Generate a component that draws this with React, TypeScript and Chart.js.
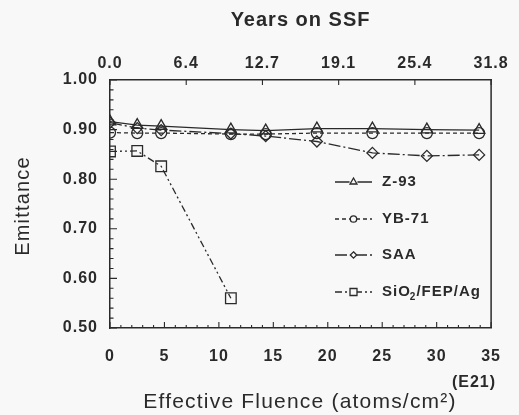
import { useEffect, useRef } from 'react';
import { Chart, registerables } from 'chart.js';
Chart.register(...registerables);

// ---- data ----
const fluence = [0, 2.5, 4.7, 11.1, 14.3, 19.0, 24.1, 29.1, 33.9];
const z93 = [0.916, 0.909, 0.907, 0.900, 0.898, 0.902, 0.902, 0.900, 0.899];
const yb71 = [0.894, 0.893, 0.893, 0.891, 0.891, 0.893, 0.893, 0.893, 0.893];
const saa = [0.914, 0.903, 0.899, 0.892, 0.887, 0.876, 0.853, 0.847, 0.849];
const sioFluence = [0, 2.5, 4.7, 11.1];
const sio = [0.856, 0.857, 0.826, 0.56];
const seriesLabels = ['Z-93', 'YB-71', 'SAA', 'SiO2/FEP/Ag'];
const yearTickPositions = [0, 7, 14, 21, 28, 35];
const yearLabels = ['0.0', '6.4', '12.7', '19.1', '25.4', '31.8'];

const FONT = "'Liberation Sans', Arial, Helvetica, sans-serif";
const INK = '#2a2a2a';
const BG = '#f8f8f8';

type Style = 'triangle' | 'circle' | 'rectRot' | 'rect';

function drawMarker(ctx: CanvasRenderingContext2D, style: Style, x: number, y: number, r: number) {
  ctx.beginPath();
  if (style === 'triangle') {
    const s = Math.sin(Math.PI / 3) * r;
    ctx.moveTo(x, y - r);
    ctx.lineTo(x + s, y + r / 2);
    ctx.lineTo(x - s, y + r / 2);
    ctx.closePath();
  } else if (style === 'circle') {
    ctx.arc(x, y, r, 0, Math.PI * 2);
  } else if (style === 'rectRot') {
    ctx.moveTo(x, y - r);
    ctx.lineTo(x + r, y);
    ctx.lineTo(x, y + r);
    ctx.lineTo(x - r, y);
    ctx.closePath();
  } else {
    ctx.rect(x - r, y - r, 2 * r, 2 * r);
  }
  ctx.stroke();
}

export default function App() {
  const ref = useRef<HTMLCanvasElement>(null);

  useEffect(() => {
    const canvas = ref.current!;
    const styles: Style[] = ['triangle', 'circle', 'rectRot', 'rect'];
    const dashes: number[][] = [[], [4, 3], [12, 3, 2, 3], [7, 3, 2, 3, 2, 3]];
    const radii = [6.5, 5.5, 5.5, 7.5];
    const legendRadii = [4, 3.2, 3.2, 3.5];
    const ys = [z93, yb71, saa, sio];
    const xs = [fluence, fluence, fluence, sioFluence];

    const datasets = ys.map((vals, k) => ({
      label: seriesLabels[k],
      data: xs[k].map((x, i) => ({ x, y: vals[i] })),
      borderColor: INK,
      borderWidth: 1.3,
      borderDash: dashes[k],
      pointStyle: styles[k],
      pointRadius: radii[k],
      pointBorderColor: INK,
      pointBorderWidth: 1.3,
      pointBackgroundColor: 'rgba(0,0,0,0)',
      fill: false,
      tension: 0,
      xAxisID: 'x',
      yAxisID: 'y',
    }));

    const decor = {
      id: 'decor',
      beforeDraw(chart: any) {
        const ctx = chart.ctx as CanvasRenderingContext2D;
        ctx.save();
        ctx.fillStyle = BG;
        ctx.fillRect(0, 0, chart.width, chart.height);
        ctx.restore();
        (ctx as any).letterSpacing = '1px';
      },
      afterDraw(chart: any) {
        const ctx = chart.ctx as CanvasRenderingContext2D;
        const { left, right, top, bottom } = chart.chartArea;
        const sx = chart.scales.x;
        const sy = chart.scales.y;
        ctx.save();
        ctx.strokeStyle = INK;
        ctx.lineWidth = 1.5;
        // right frame
        ctx.beginPath();
        ctx.moveTo(right, top);
        ctx.lineTo(right, bottom);
        ctx.stroke();
        // inward ticks
        ctx.lineWidth = 1.1;
        ctx.beginPath();
        for (let i = 0; i <= 35; i++) {
          const px = sx.getPixelForValue(i);
          const len = i % 5 === 0 ? 6 : 3;
          ctx.moveTo(px, bottom);
          ctx.lineTo(px, bottom - len);
        }
        for (let i = 0; i <= 25; i++) {
          const v = 0.5 + i * 0.02;
          const py = sy.getPixelForValue(v);
          const len = i % 5 === 0 ? 7 : 3.5;
          ctx.moveTo(left, py);
          ctx.lineTo(left + len, py);
        }
        for (const p of yearTickPositions) {
          const px = sx.getPixelForValue(p);
          ctx.moveTo(px, top);
          ctx.lineTo(px, top + 5);
        }
        ctx.stroke();

        // titles
        ctx.fillStyle = INK;
        (ctx as any).letterSpacing = '1px';
        ctx.textAlign = 'center';
        ctx.textBaseline = 'middle';
        ctx.font = `bold 20px ${FONT}`;
        ctx.fillText('Years on SSF', (left + right) / 2, 20);
        ctx.font = `21px ${FONT}`;
        (ctx as any).letterSpacing = '1.2px';
        ctx.fillText('Effective Fluence (atoms/cm²)', 300, 402);
        ctx.save();
        ctx.translate(23, 206);
        ctx.rotate(-Math.PI / 2);
        ctx.font = `20px ${FONT}`;
        ctx.fillText('Emittance', 0, 0);
        ctx.restore();
        (ctx as any).letterSpacing = '1px';
        ctx.font = `bold 16px ${FONT}`;
        ctx.textAlign = 'right';
        ctx.fillText('(E21)', 496, 383);

        // legend
        const lx0 = 335, lx1 = 372, tx = 382;
        const rowY = [182, 219, 255, 292];
        ctx.textAlign = 'left';
        for (let k = 0; k < 4; k++) {
          const y = rowY[k];
          ctx.lineWidth = 1.3;
          ctx.setLineDash(dashes[k]);
          ctx.beginPath();
          ctx.moveTo(lx0, y);
          ctx.lineTo(lx1, y);
          ctx.stroke();
          ctx.setLineDash([]);
          ctx.fillStyle = BG;
          ctx.beginPath();
          ctx.arc((lx0 + lx1) / 2, y, legendRadii[k], 0, Math.PI * 2);
          ctx.fill();
          drawMarker(ctx, styles[k], (lx0 + lx1) / 2, y, legendRadii[k]);
          ctx.fillStyle = INK;
          ctx.font = `bold 15px ${FONT}`;
          const label = seriesLabels[k];
          if (label.startsWith('SiO2')) {
            ctx.fillText('SiO', tx, y);
            const w1 = ctx.measureText('SiO').width;
            ctx.font = `bold 10px ${FONT}`;
            ctx.fillText('2', tx + w1 - 1, y + 5);
            const w2 = ctx.measureText('2').width;
            ctx.font = `bold 15px ${FONT}`;
            ctx.fillText(label.slice(4), tx + w1 + w2 - 1, y);
          } else {
            ctx.fillText(label, tx, y);
          }
        }
        ctx.restore();
      },
    };

    const tickFont = { family: FONT, size: 16, weight: 'bold' as const };

    const chart = new Chart(canvas, {
      type: 'line',
      data: { datasets: datasets as any },
      options: {
        animation: false,
        responsive: false,
        layout: { padding: { left: 0, right: 23, top: 0, bottom: 0 } },
        plugins: { legend: { display: false }, tooltip: { enabled: false } },
        scales: {
          x: {
            type: 'linear',
            position: 'bottom',
            min: 0,
            max: 35,
            afterFit: (s: any) => { s.height = 87; },
            ticks: { stepSize: 5, padding: 19, color: INK, font: tickFont, maxRotation: 0 },
            grid: { display: false, drawTicks: false },
            border: { display: true, color: INK, width: 1.5 },
          },
          x2: {
            type: 'linear',
            position: 'top',
            min: 0,
            max: 35,
            afterFit: (s: any) => { s.height = 80; },
            afterBuildTicks: (s: any) => { s.ticks = yearTickPositions.map((v) => ({ value: v })); },
            ticks: {
              padding: 7,
              color: INK,
              font: tickFont,
              maxRotation: 0,
              callback: (v: any) => yearLabels[yearTickPositions.indexOf(Number(v))] ?? '',
            },
            grid: { display: false, drawTicks: false },
            border: { display: true, color: INK, width: 1.5 },
          },
          y: {
            type: 'linear',
            position: 'left',
            min: 0.5,
            max: 1.0,
            afterFit: (s: any) => { s.width = 110; },
            ticks: { stepSize: 0.1, padding: 12, color: INK, font: tickFont, callback: (v: any) => Number(v).toFixed(2) },
            grid: { display: false, drawTicks: false },
            border: { display: true, color: INK, width: 1.5 },
          },
        },
      },
      plugins: [decor],
    });
    return () => chart.destroy();
  }, []);

  return (
    <div style={{ position: 'fixed', left: 0, top: 0, width: 519, height: 415, background: BG }}>
      <canvas ref={ref} width={519} height={415} style={{ display: 'block', width: 519, height: 415 }} />
    </div>
  );
}
